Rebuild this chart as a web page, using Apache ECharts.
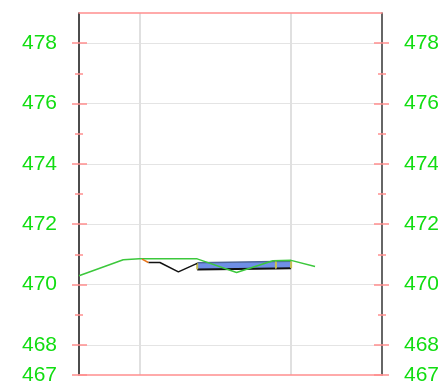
<!DOCTYPE html>
<html>
<head>
<meta charset="utf-8">
<script src="https://cdn.jsdelivr.net/npm/echarts@6/dist/echarts.min.js"></script>
<style>
  html, body { margin: 0; padding: 0; background: #fff; }
  #chart { width: 438px; height: 387px; }
</style>
</head>
<body>
<div id="chart"></div>
<script>
// y axis
var yMin = 467
var yMax = 479
var yLabels = [467, 468, 470, 472, 474, 476, 478]
var yMajor = [467, 468, 470, 472, 474, 476, 478]
var yMinor = [469, 471, 473, 475, 477]
var ySplit = [468, 470, 472, 474, 476, 478]
// x axis
var xMin = -2
var xMax = 8
var xSplit = [0, 5]

// green line
var greenX = [-2, -0.54, 0, 1.9, 3.2, 4.4, 5.0, 5.79]
var greenY = [470.29, 470.82, 470.85, 470.85, 470.40, 470.79, 470.80, 470.60]
// orange start + black line
var orangeX = [0.08, 0.29]
var orangeY = [470.84, 470.73]
var blackX = [0.29, 0.67, 1.28, 1.9]
var blackY = [470.73, 470.73, 470.42, 470.70]
// blue box edges
var boxX = [1.9, 4.5, 5.0]
var boxTop = [470.72, 470.76, 470.77]
var boxBottom = [470.50, 470.53, 470.54]

var pink = '#ff8f8f'
var green = '#11dd11'

function pairs (xs, ys) {
  return xs.map(function (x, i) { return [x, ys[i]] })
}

var boxData = []
for (var i = 1; i < boxX.length; i++) {
  boxData.push([boxX[i - 1], boxX[i], boxTop[i - 1], boxTop[i], boxBottom[i - 1], boxBottom[i]])
}

function labelAxis (pos) {
  return {
    type: 'value', position: pos, min: yMin, max: yMax,
    axisLine: { show: true, onZero: false, lineStyle: { color: pos === 'left' ? '#111' : '#333', width: 1.5 } },
    axisTick: { show: false, customValues: ySplit },
    axisLabel: {
      customValues: yLabels, color: green, fontSize: 21, margin: 22,
      fontFamily: 'Liberation Sans, Arial, sans-serif'
    },
    splitLine: { show: pos === 'left', lineStyle: { color: '#e4e4e4', width: 1 } }
  }
}

function tickAxis (pos, values, len, off) {
  return {
    type: 'value', position: pos, min: yMin, max: yMax, offset: off,
    axisLine: { show: false, onZero: false },
    axisTick: { show: true, customValues: values, length: len, lineStyle: { color: pink, width: 1.5 } },
    axisLabel: { show: false },
    splitLine: { show: false }
  }
}

var myChart = echarts.init(document.getElementById('chart'))
var option = {
  animation: false,
  grid: { left: 79, right: 56, top: 13, bottom: 12, outerBoundsMode: 'none' },
  xAxis: [{
    type: 'value', position: 'bottom', min: xMin, max: xMax,
    axisLine: { show: true, onZero: false, lineStyle: { color: pink, width: 1.5 } },
    axisTick: { show: false, customValues: xSplit },
    axisLabel: { show: false },
    splitLine: { show: true, lineStyle: { color: '#e0e0e0', width: 2 } }
  }, {
    type: 'value', position: 'top', min: xMin, max: xMax,
    axisLine: { show: true, onZero: false, lineStyle: { color: pink, width: 1.5 } },
    axisTick: { show: false },
    axisLabel: { show: false },
    splitLine: { show: false }
  }],
  yAxis: [
    labelAxis('left'),
    tickAxis('left', yMajor, 15, -8),
    tickAxis('left', yMinor, 8, -4),
    labelAxis('right'),
    tickAxis('right', yMajor, 15, -8),
    tickAxis('right', yMinor, 8, -4)
  ],
  series: [{
    type: 'custom',
    data: boxData,
    z: 2,
    renderItem: function (params, api) {
      var tl = api.coord([api.value(0), api.value(2)])
      var tr = api.coord([api.value(1), api.value(3)])
      var bl = api.coord([api.value(0), api.value(4)])
      var br = api.coord([api.value(1), api.value(5)])
      return {
        type: 'group',
        children: [
          { type: 'polygon', shape: { points: [tl, tr, br, bl] }, style: { fill: '#6f8fe6' } },
          { type: 'line', shape: { x1: tl[0], y1: tl[1], x2: tr[0], y2: tr[1] }, style: { stroke: '#4d6699', lineWidth: 1.5 } },
          { type: 'line', shape: { x1: bl[0], y1: bl[1], x2: br[0], y2: br[1] }, style: { stroke: '#111', lineWidth: 2 } },
          { type: 'line', shape: { x1: tl[0], y1: tl[1], x2: bl[0], y2: bl[1] }, style: { stroke: '#c8c050', lineWidth: 2 } },
          { type: 'line', shape: { x1: tr[0], y1: tr[1], x2: br[0], y2: br[1] }, style: { stroke: '#c8c050', lineWidth: 2 } }
        ]
      }
    }
  }, {
    type: 'line',
    data: pairs(orangeX, orangeY),
    symbol: 'none',
    z: 5,
    lineStyle: { color: '#e8741a', width: 1.5 }
  }, {
    type: 'line',
    data: pairs(blackX, blackY),
    symbol: 'none',
    z: 3,
    lineStyle: { color: '#111', width: 1.5 }
  }, {
    type: 'line',
    data: pairs(greenX, greenY),
    symbol: 'none',
    z: 4,
    lineStyle: { color: '#3cc83c', width: 1.5 }
  }]
}
myChart.setOption(option)
</script>
</body>
</html>
